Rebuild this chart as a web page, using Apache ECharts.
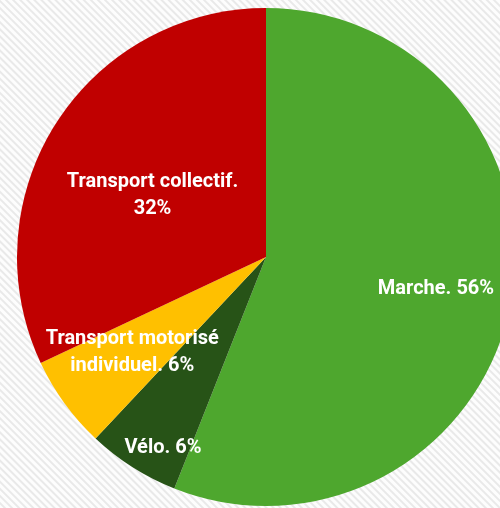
<!DOCTYPE html>
<html>
<head>
<meta charset="utf-8">
<script src="https://cdn.jsdelivr.net/npm/echarts@6/dist/echarts.min.js"></script>
<style>
html, body { margin: 0; padding: 0; }
body {
	background: repeating-linear-gradient(45deg, #fdfdfd 0px, #fdfdfd 2px, #e9e9e9 3px, #e9e9e9 4px, #fdfdfd 5px);
}
#box { width: 500px; height: 508px; }
</style>
</head>
<body>
<div id="box"></div>
<script>
// parts des modes de déplacement (%)
var categories = ['Marche', 'Vélo', 'Transport motorisé\nindividuel', 'Transport collectif'];
var values = [56, 6, 6, 32];
var colors = ['#4ea72e', '#275317', '#ffc000', '#c00000'];

// label placement: fraction of radius + small angle tweak (deg), per slice
var labelRadius = [0.695, 0.87, 0.66, 0.518];
var labelAngleShift = [0, -4, 0.5, -4];

var cx = 266, cy = 257, R = 249;

function bindData(eleIdName) {
	var myChart = echarts.init(document.getElementById(eleIdName));
	var total = 0;
	for (var i = 0; i < values.length; i++) total += values[i];
	var data = [];
	for (var i = 0; i < values.length; i++) {
		data.push({ name: categories[i], value: values[i], itemStyle: { color: colors[i] } });
	}
	var option = {
		backgroundColor: 'transparent',
		animation: false,
		series: [
			{
				type: 'pie',
				radius: [0, R],
				center: [cx, cy],
				startAngle: 90,
				clockwise: true,
				silent: true,
				itemStyle: { borderWidth: 0 },
				label: {
					show: true,
					position: 'inside',
					color: '#fff',
					fontFamily: 'Roboto',
					fontWeight: 'bold',
					fontSize: 20,
					lineHeight: 27,
					align: 'center',
					formatter: function (p) {
						if (p.dataIndex === 3) return p.name + '.\n' + p.value + '%';
						return p.name + '. ' + p.value + '%';
					}
				},
				labelLine: { show: false },
				labelLayout: function (params) {
					var idx = params.dataIndex;
					var before = 0;
					for (var k = 0; k < idx; k++) before += values[k];
					var mid = (before + values[idx] / 2) / total * 360 + labelAngleShift[idx];
					var a = mid * Math.PI / 180;
					var r = R * labelRadius[idx];
					return {
						x: cx + r * Math.sin(a),
						y: cy - r * Math.cos(a),
						align: 'center',
						verticalAlign: 'middle'
					};
				},
				data: data
			}
		]
	};
	myChart.setOption(option);
}

bindData('box');
</script>
</body>
</html>
